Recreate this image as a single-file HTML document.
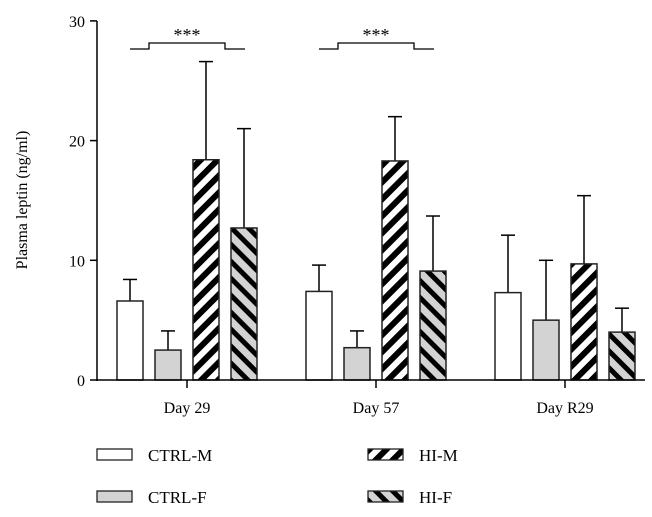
<!DOCTYPE html>
<html><head><meta charset="utf-8"><style>body{margin:0;background:#fff}svg{display:block;font-family:"Liberation Serif",serif}</style></head>
<body>
<svg id="chart" width="652" height="517">
<defs>
<pattern id="hm" patternUnits="userSpaceOnUse" width="12" height="12" patternTransform="rotate(45)"><rect width="12" height="12" fill="#fff"/><rect width="6" height="12" fill="#000"/></pattern>
<pattern id="hf" patternUnits="userSpaceOnUse" width="12" height="12" patternTransform="rotate(-45)"><rect width="12" height="12" fill="#d3d3d3"/><rect width="5" height="12" fill="#000"/></pattern>
</defs>
<g id="plot"></g>
</svg>
<script>
const groups=["Day 29","Day 57","Day R29"];
const series=["CTRL-M","CTRL-F","HI-M","HI-F"];
const ctrlM=[6.6,7.4,7.3], ctrlMErr=[8.4,9.6,12.1];
const ctrlF=[2.5,2.7,5.0], ctrlFErr=[4.1,4.1,10.0];
const hiM=[18.4,18.3,9.7], hiMErr=[26.6,22.0,15.4];
const hiF=[12.7,9.1,4.0], hiFErr=[21.0,13.7,6.0];
const yTicks=[0,10,20,30];
const vals=[ctrlM,ctrlF,hiM,hiF], errs=[ctrlMErr,ctrlFErr,hiMErr,hiFErr];
const fills=["#fff","#d3d3d3","url(#hm)","url(#hf)"];
const NS="http://www.w3.org/2000/svg", g=document.getElementById('plot');
const y=v=>380-v*11.97;
const gx=i=>187+i*189;
const bx=(i,s)=>gx(i)-70+s*38;
function el(t,a,txt){const e=document.createElementNS(NS,t);for(const k in a)e.setAttribute(k,a[k]);if(txt!=null)e.textContent=txt;g.appendChild(e);return e;}
let e;
vals.forEach((arr,s)=>arr.forEach((v,i)=>{
 const x=bx(i,s);
 e=el('line',{x1:x+13,x2:x+13,y1:y(errs[s][i]),y2:y(v),stroke:'#000','stroke-width':1.5});
 
 
 e=el('line',{x1:x+6,x2:x+20,y1:y(errs[s][i]),y2:y(errs[s][i]),stroke:'#000','stroke-width':1.5});
 
 
 e=el('rect',{x:x,y:y(v),width:26,height:y(0)-y(v),fill:fills[s],stroke:'#222','stroke-width':1.5});
 
 
}));
e=el('line',{x1:97,x2:97,y1:21,y2:381,stroke:'#000','stroke-width':1.5});


e=el('line',{x1:96,x2:645,y1:380,y2:380,stroke:'#000','stroke-width':1.5});


yTicks.forEach(t=>{
 el('line',{x1:90,x2:97,y1:y(t),y2:y(t),stroke:'#000','stroke-width':1.5});
 e=el('text',{x:85,y:y(t)+6,'text-anchor':'end','font-size':16},t);
 
 
});
groups.forEach((n,i)=>{
 el('line',{x1:gx(i),x2:gx(i),y1:380,y2:388,stroke:'#000','stroke-width':1.5});
 e=el('text',{x:gx(i),y:413,'text-anchor':'middle','font-size':16},n);
 
 
});
e=el('text',{x:0,y:0,transform:'translate(27,200) rotate(-90)','text-anchor':'middle','font-size':16},'Plasma leptin (ng/ml)');


[0,1].forEach(i=>{
 const c=gx(i);
 el('polyline',{points:`${c-57},49 ${c-38},49 ${c-38},43 ${c+38},43 ${c+38},49 ${c+58},49`,fill:'none',stroke:'#000','stroke-width':1.3});
 e=el('text',{x:c,y:41,'text-anchor':'middle','font-size':18},'***');
 
 
});
const lg=[[97,455],[97,497],[368,455],[368,497]];
const lo=[0,1,2,3];
lo.forEach(s=>{
 const [x,yy]=lg[s];
 e=el('rect',{x:x,y:yy-6,width:35,height:11,fill:fills[s],stroke:'#222','stroke-width':1.3});
 
 
 e=el('text',{x:x+51,y:yy+6,'font-size':17},series[s]);
 
 
});
</script>
</body></html>
